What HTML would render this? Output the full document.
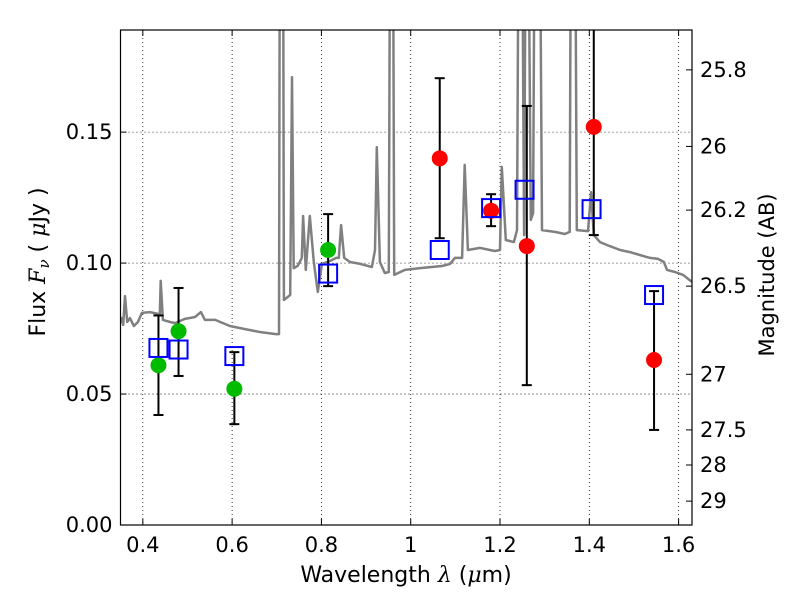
<!DOCTYPE html>
<html><head><meta charset="utf-8"><style>
body{margin:0;background:#fff;}
svg text{font-family:"DejaVu Sans","Liberation Sans",sans-serif;}
</style></head><body>
<svg id="chart" width="800" height="600" viewBox="0 0 800 600" xmlns="http://www.w3.org/2000/svg"></svg>
<script>
const xTicks=[0.4,0.6,0.8,1.0,1.2,1.4,1.6];
const xTickLabels=["0.4","0.6","0.8","1","1.2","1.4","1.6"];
const yTicks=[0,0.05,0.10,0.15];
const yTickLabels=["0.00","0.05","0.10","0.15"];
const magTicks=[25.8,26,26.2,26.5,27,27.5,28,29];
const magLabels=["25.8","26","26.2","26.5","27","27.5","28","29"];
const spectrum=[
[0.351,0.0794],[0.356,0.0764],[0.360,0.0874],[0.365,0.0775],[0.371,0.079],[0.380,0.076],[0.389,0.0775],[0.398,0.081],
[0.416,0.0813],[0.434,0.0806],[0.438,0.0806],[0.440,0.0932],[0.445,0.0783],[0.461,0.0775],[0.472,0.0771],[0.494,0.0787],
[0.517,0.0794],[0.530,0.0813],[0.539,0.0783],[0.562,0.0783],[0.595,0.076],[0.629,0.0748],[0.662,0.0737],[0.698,0.0729],
[0.705,0.0729],[0.707,0.25],[0.714,0.25],[0.716,0.0859],[0.730,0.0878],[0.734,0.171],[0.738,0.098],[0.747,0.099],
[0.756,0.102],[0.759,0.118],[0.765,0.0974],[0.774,0.118],[0.783,0.1004],[0.792,0.089],[0.801,0.0997],[0.819,0.1008],
[0.833,0.102],[0.839,0.102],[0.844,0.1145],[0.851,0.102],[0.864,0.1004],[0.887,0.0997],[0.913,0.0985],[0.920,0.105],
[0.924,0.1443],[0.931,0.1004],[0.942,0.0962],[0.951,0.0966],[0.954,0.25],[0.960,0.25],[0.963,0.0955],[0.987,0.0974],
[1.021,0.0981],[1.070,0.0989],[1.088,0.0997],[1.099,0.102],[1.115,0.102],[1.121,0.1375],[1.128,0.105],[1.155,0.1058],
[1.188,0.1046],[1.200,0.105],[1.204,0.1367],[1.213,0.1088],[1.231,0.108],[1.238,0.1126],[1.242,0.25],[1.249,0.25],
[1.254,0.1107],[1.258,0.25],[1.263,0.25],[1.269,0.1165],[1.274,0.1191],[1.278,0.25],[1.289,0.25],[1.294,0.1126],
[1.323,0.1119],[1.345,0.1111],[1.356,0.1119],[1.359,0.25],[1.368,0.25],[1.372,0.1126],[1.397,0.1122],[1.404,0.1271],
[1.410,0.1107],[1.424,0.108],[1.446,0.1065],[1.469,0.105],[1.491,0.1042],[1.513,0.1031],[1.536,0.102],[1.554,0.1016],
[1.567,0.1004],[1.574,0.0974],[1.592,0.0966],[1.610,0.0955],[1.630,0.0928]];
const circWave=[0.435,0.48,0.605,0.815,1.065,1.18,1.26,1.41,1.545];
const circFlux=[0.061,0.074,0.052,0.105,0.140,0.120,0.1065,0.152,0.063];
const circColor=["#00bb00","#00bb00","#00bb00","#00bb00","#ff0000","#ff0000","#ff0000","#ff0000","#ff0000"];
const errHigh=[0.080,0.0905,0.066,0.1187,0.1706,0.1263,0.160,0.20,0.0893];
const errLow=[0.042,0.0569,0.0385,0.0912,0.1095,0.1141,0.0534,0.1107,0.0363];
const sqWave=[0.435,0.48,0.605,0.815,1.065,1.18,1.255,1.405,1.545];
const sqFlux=[0.0676,0.067,0.0645,0.096,0.105,0.121,0.128,0.1206,0.0878];

const svg=document.getElementById('chart');
const NS="http://www.w3.org/2000/svg";
const L=120.5,R=692,T=30,B=525;
const X0=0.35,X1=1.63,Y0=0,Y1=0.189;
const sx=v=>L+(v-X0)/(X1-X0)*(R-L);
const sy=v=>B-(v-Y0)/(Y1-Y0)*(B-T);
function mk(tag,attrs,parent){const e=document.createElementNS(NS,tag);for(const k in attrs)e.setAttribute(k,attrs[k]);(parent||svg).appendChild(e);return e;}
const defs=mk('defs',{});const cp=mk('clipPath',{id:'clip'},defs);mk('rect',{x:L,y:T,width:R-L,height:B-T},cp);
const grid=mk('g',{});


xTicks.forEach(t=>mk('line',{x1:sx(t),x2:sx(t),y1:T,y2:B,stroke:'#000','stroke-width':0.8,'stroke-dasharray':'1,3'},grid));
yTicks.forEach(t=>mk('line',{x1:L,x2:R,y1:sy(t),y2:sy(t),stroke:'#000','stroke-width':0.8,'stroke-dasharray':'1,3'},grid));
const plot=mk('g',{'clip-path':'url(#clip)'});
const pts=spectrum.map(p=>sx(p[0]).toFixed(1)+','+sy(p[1]).toFixed(1)).join(' ');
const spec=mk('polyline',{points:pts,fill:'none',stroke:'#808080','stroke-width':2.5,'stroke-linejoin':'round'},plot);


circWave.forEach((w,i)=>{
  const g=mk('g',{},plot);
  
  
  const x=sx(w),yh=sy(errHigh[i]),yl=sy(errLow[i]);
  mk('line',{x1:x,x2:x,y1:yh,y2:yl,stroke:'#000','stroke-width':2},g);
  mk('line',{x1:x-5,x2:x+5,y1:yh,y2:yh,stroke:'#000','stroke-width':2},g);
  mk('line',{x1:x-5,x2:x+5,y1:yl,y2:yl,stroke:'#000','stroke-width':2},g);
});
circWave.forEach((w,i)=>{
  const c=mk('circle',{cx:sx(w),cy:sy(circFlux[i]),r:8,fill:circColor[i]},plot);
  
  
});
sqWave.forEach((w,i)=>{
  const s=mk('rect',{x:sx(w)-9,y:sy(sqFlux[i])-9,width:18,height:18,fill:'none',stroke:'#0000ff','stroke-width':2},plot);
  
  
});
const frame=mk('rect',{x:L,y:T,width:R-L,height:B-T,fill:'none',stroke:'#000','stroke-width':1.2});


xTicks.forEach((t,i)=>{
  mk('line',{x1:sx(t),x2:sx(t),y1:B,y2:B-6,stroke:'#000'});
  mk('line',{x1:sx(t),x2:sx(t),y1:T,y2:T+6,stroke:'#000'});
  const tx=mk('text',{x:sx(t),y:B+27,'font-size':21,'text-anchor':'middle'});tx.textContent=xTickLabels[i];
  
  
});
yTicks.forEach((t,i)=>{
  mk('line',{x1:L,x2:L+6,y1:sy(t),y2:sy(t),stroke:'#000'});
  const tx=mk('text',{x:L-8,y:sy(t)+7,'font-size':21,'text-anchor':'end'});tx.textContent=yTickLabels[i];
  
  
});
magTicks.forEach((m,i)=>{
  const f=Math.pow(10,(23.9-m)/2.5);const y=sy(f);
  mk('line',{x1:R,x2:R-6,y1:y,y2:y,stroke:'#000'});
  const tx=mk('text',{x:R+8,y:y+7,'font-size':21});tx.textContent=magLabels[i];
  
  
});
const xl=mk('text',{x:406,y:582,'font-size':22,'text-anchor':'middle'});
xl.innerHTML='Wavelength  <tspan font-style="italic" font-family="DejaVu Serif,serif">λ</tspan> (<tspan font-style="italic" font-family="DejaVu Serif,serif">μ</tspan>m)';


const yl=mk('text',{x:0,y:0,'font-size':22,'text-anchor':'middle',transform:'translate(45,262) rotate(-90)'});
yl.innerHTML='Flux  <tspan font-style="italic" font-family="DejaVu Serif,serif">F<tspan font-size="15" dy="4">ν</tspan></tspan><tspan dy="-4">  (  </tspan><tspan font-style="italic" font-family="DejaVu Serif,serif">μ</tspan>Jy )';


const ryl=mk('text',{x:0,y:0,'font-size':21,'text-anchor':'middle',transform:'translate(774,275) rotate(-90)'});
ryl.textContent='Magnitude (AB)';


</script>
</body></html>
